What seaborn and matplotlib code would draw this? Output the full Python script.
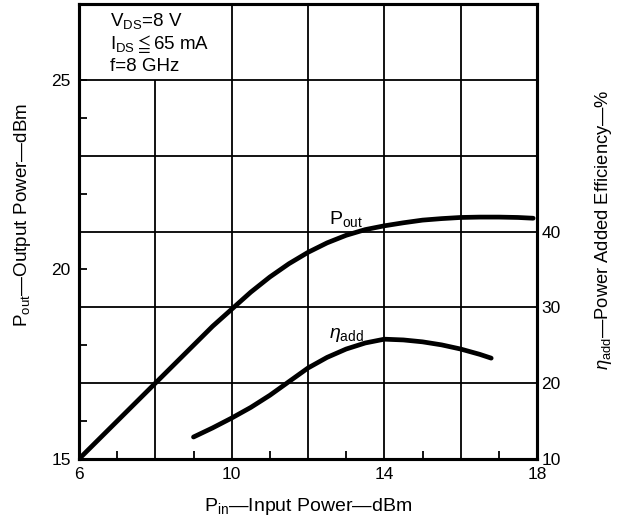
import numpy as np
import pandas as pd
import matplotlib
matplotlib.use("Agg")
import matplotlib.pyplot as plt
import seaborn as sns

# ---- data ----
pin_pout = [6, 6.5, 7, 7.5, 8, 8.5, 9, 9.5, 10, 10.5, 11, 11.5, 12, 12.5, 13, 13.5,
            14, 14.5, 15, 15.5, 16, 16.5, 17, 17.5, 17.9]
pout = [15.0, 15.5, 16.0, 16.5, 17.0, 17.5, 18.0, 18.5, 18.95, 19.4, 19.8, 20.15, 20.45,
        20.7, 20.9, 21.05, 21.15, 21.23, 21.3, 21.34, 21.37, 21.38, 21.38, 21.37, 21.35]

pin_eta = [9, 9.5, 10, 10.5, 11, 11.5, 12, 12.5, 13, 13.5, 14, 14.5, 15, 15.5, 16, 16.5, 16.8]
eta_add = [12.9, 14.1, 15.4, 16.8, 18.4, 20.2, 22.0, 23.4, 24.5, 25.3, 25.8, 25.7, 25.45,
           25.05, 24.5, 23.8, 23.3]

x_grid = [8, 10, 12, 14, 16]
y_grid = [17, 19, 21, 23, 25]
x_ticklabels = [6, 10, 14, 18]
x_minor = [7, 9, 11, 13, 15, 17]
y_ticklabels = [15, 20, 25]
y_minor = [16, 18, 22, 24]
right_ticklabels = [10, 20, 30, 40]

conditions = [r"V$_{\rm DS}$=8 V", r"I$_{\rm DS}\leqq$65 mA", r"f=8 GHz"]

sns.set_theme(style="ticks")
plt.rcParams["font.family"] = ["Liberation Sans", "DejaVu Sans"]
plt.rcParams["mathtext.fontset"] = "custom"
plt.rcParams["mathtext.rm"] = "Liberation Sans"
plt.rcParams["mathtext.it"] = "Liberation Sans:italic"
plt.rcParams["mathtext.fallback"] = "stixsans"

fig = plt.figure(figsize=(6.2, 5.23), dpi=100)
ax = fig.add_axes([79 / 620, 1 - 459 / 523, (537 - 79) / 620, (459 - 4) / 523])
ax2 = ax.twinx()

ax.set_xlim(6, 18)
ax.set_ylim(15, 27)
ax2.set_ylim(10, 70)

# grid lines (x=8 line stops under the condition box)
for xg in x_grid:
    top = 25 if xg == 8 else 27
    ax.vlines(xg, 15, top, color="black", lw=1.3, zorder=1)
ax.hlines(y_grid, 6, 18, color="black", lw=1.3, zorder=1)

df1 = pd.DataFrame({"Pin": pin_pout, "Pout": pout})
df2 = pd.DataFrame({"Pin": pin_eta, "eta": eta_add})
sns.lineplot(data=df1, x="Pin", y="Pout", ax=ax, color="black", lw=3.4, zorder=3,
             solid_capstyle="round", solid_joinstyle="round")
sns.lineplot(data=df2, x="Pin", y="eta", ax=ax2, color="black", lw=3.4, zorder=3,
             solid_capstyle="round", solid_joinstyle="round")

# ticks
ax.set_xticks(x_ticklabels)
ax.set_xticks(x_minor, minor=True)
ax.set_yticks(y_ticklabels)
ax.set_yticks(y_minor, minor=True)
ax.tick_params(axis="both", which="both", direction="in", labelsize=12.5, colors="black")
ax.tick_params(axis="both", which="major", length=6, width=1.3, pad=6)
ax.tick_params(axis="both", which="minor", length=6, width=1.3)
ax.tick_params(axis="x", which="major", length=0)
ax2.set_yticks(right_ticklabels)
ax2.tick_params(axis="y", direction="in", length=0, labelsize=12.5, pad=3, colors="black")

for a in (ax, ax2):
    for s in a.spines.values():
        s.set_linewidth(2.2)
        s.set_color("black")

ax.set_xlabel(r"P$_{\rm in}$—Input Power—dBm", fontsize=14, labelpad=10, color="black")
ax.set_ylabel(r"P$_{\rm out}$—Output Power—dBm", fontsize=13.6, color="black")
ax.yaxis.set_label_coords(-0.10, 0.536)
ax2.set_ylabel(r"$\eta_{\rm add}$—Power Added Efficiency—%", fontsize=13.2, color="black")
ax2.yaxis.set_label_coords(1.122, 0.505)

ax.text(12.55, 21.2, r"P$_{\rm out}$", fontsize=14, color="black", zorder=4)
ax.text(12.55, 18.2, r"$\eta_{\rm add}$", fontsize=14, color="black", zorder=4)

ys = [26.55, 25.95, 25.35]
for t, yy in zip(conditions, ys):
    ax.text(6.8, yy, t, fontsize=13.5, color="black", va="center")

fig.savefig("out.png", dpi=100)
